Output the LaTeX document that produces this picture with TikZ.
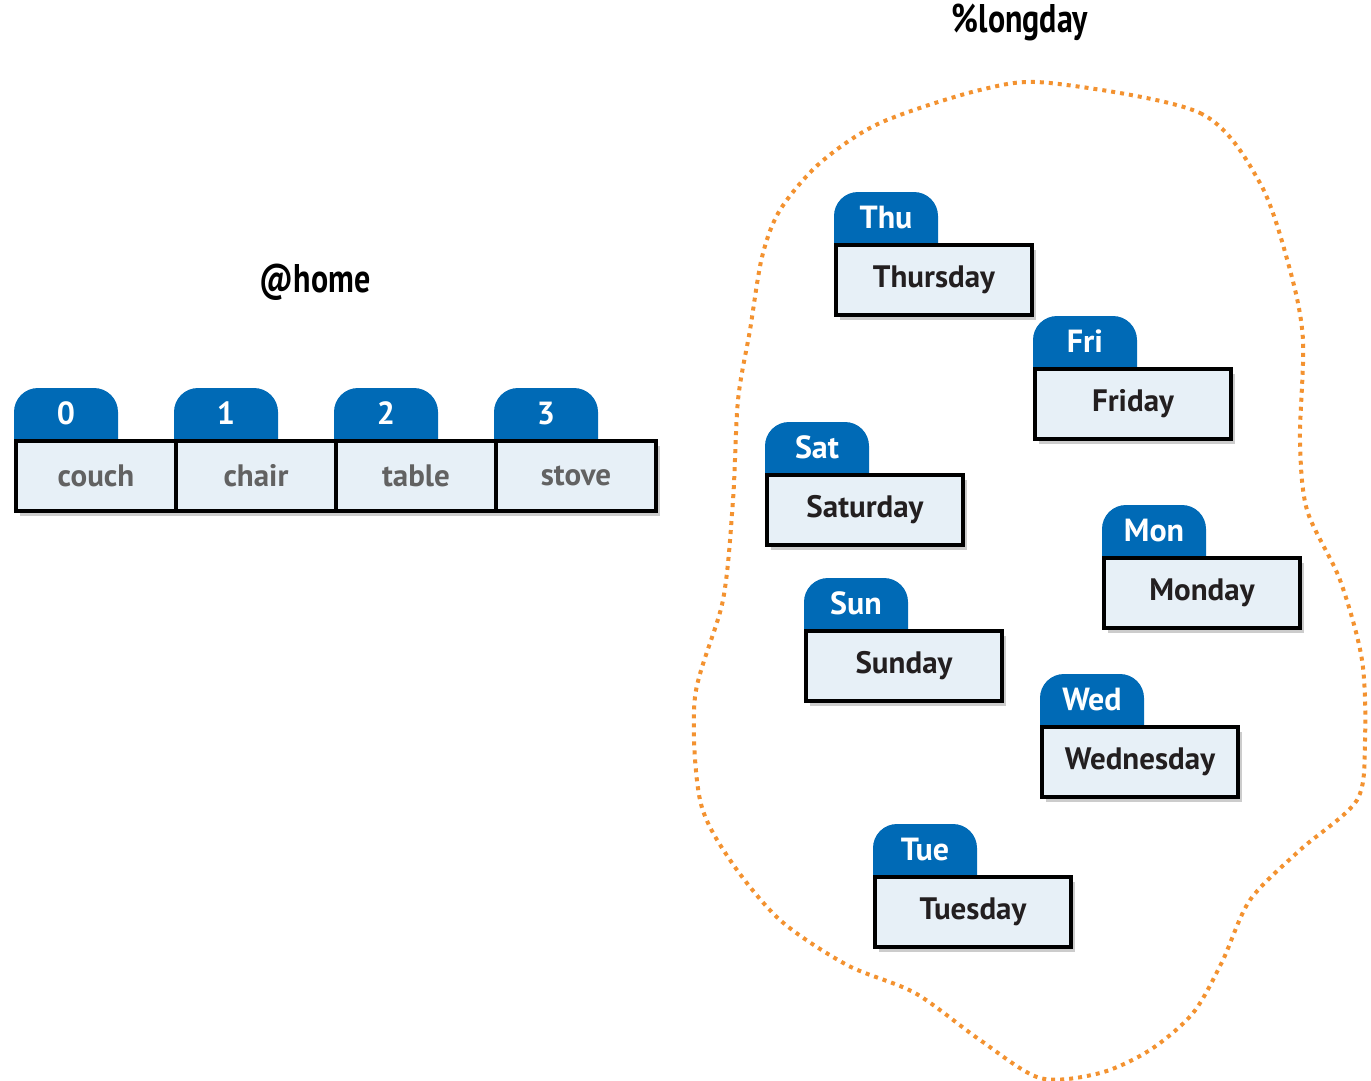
\documentclass[tikz,border=0pt]{standalone}
\usepackage{fontspec}
\setmainfont{PT Sans}
\newfontfamily\titlefont[FakeStretch=0.8]{PT Sans}
\usepackage{xcolor}
\usetikzlibrary{positioning,shadows}

\definecolor{tabblue}{RGB}{0,106,182}
\definecolor{cellfill}{RGB}{231,240,247}
\definecolor{keygray}{RGB}{98,98,98}
\definecolor{valdark}{RGB}{35,31,32}
\definecolor{blobline}{RGB}{243,146,48}

\begin{document}
\begin{tikzpicture}[x=0.5pt, y=-0.5pt]
  % Styles
  \tikzstyle{tab} = [fill=tabblue, rounded corners=12pt, minimum width=52pt, inner sep=0pt, outer sep=0pt, text height=18.3pt, text depth=21.7pt, text=white, font=\bfseries\fontsize{16}{16}\selectfont]
  \tikzstyle{cell} = [draw, line width=2pt, fill=cellfill, text=valdark, minimum width=98pt, minimum height=35pt, inner sep=0pt, font=\bfseries\fontsize{15.5}{15.5}\selectfont, drop shadow={shadow xshift=2pt, shadow yshift=-2.5pt, opacity=0.4}]
  \tikzstyle{homecell} = [cell, text=keygray, minimum width=80pt]
  \tikzstyle{title} = [font=\titlefont\bfseries\fontsize{20}{20}\selectfont]
  \tikzstyle{blob} = [blobline, line width=2pt, dash pattern=on 2pt off 2.5pt]

  \useasboundingbox (0,0) rectangle (1371,1081);

  % Titles
  \node [title] (hometitle) at (315,282) {@home};
  \node [title] (daytitle) at (1020,22) {\%longday};

  % @home
  \node [tab, anchor=north west] (tab0) at (14,388) {0};
  \node [homecell, anchor=north west] (couch) at ([yshift=-25.5pt]tab0.north west) {couch};
  \node [tab, right=28pt of tab0] (tab1) {1};
  \node [homecell, anchor=north west] (chair) at ([yshift=-25.5pt]tab1.north west) {chair};
  \node [tab, right=28pt of tab1] (tab2) {2};
  \node [homecell, anchor=north west] (table) at ([yshift=-25.5pt]tab2.north west) {table};
  \node [tab, right=28pt of tab2] (tab3) {3};
  \node [homecell, anchor=north west] (stove) at ([yshift=-25.5pt]tab3.north west) {stove};

  % %longday
  \draw [blob] plot [smooth cycle] coordinates {(1050,83) (1200,113) (1260,183) (1290,270) (1303,340) (1300,440) (1307,510) (1340,580) (1362,660) (1365,740) (1357,800) (1300,850) (1250,900) (1222,962) (1193,1013) (1150,1050) (1100,1073) (1040,1078) (980,1040) (915,993) (847,965) (780,920) (730,860) (700,800) (695,697) (723,600) (733,500) (738,400) (750,330) (762,257) (780,210) (820,163) (880,123) (980,90)};

  \node [tab, anchor=north west] (thutab) at (834,192) {Thu};
  \node [cell, anchor=north west] (thu) at ([yshift=-25.5pt]thutab.north west) {Thursday};

  \node [tab, anchor=north west] (fritab) at (1033,316) {Fri};
  \node [cell, anchor=north west] (fri) at ([yshift=-25.5pt]fritab.north west) {Friday};

  \node [tab, anchor=north west] (sattab) at (765,422) {Sat};
  \node [cell, anchor=north west] (sat) at ([yshift=-25.5pt]sattab.north west) {Saturday};

  \node [tab, anchor=north west] (montab) at (1102,505) {Mon};
  \node [cell, anchor=north west] (mon) at ([yshift=-25.5pt]montab.north west) {Monday};

  \node [tab, anchor=north west] (suntab) at (804,578) {Sun};
  \node [cell, anchor=north west] (sun) at ([yshift=-25.5pt]suntab.north west) {Sunday};

  \node [tab, anchor=north west] (wedtab) at (1040,674) {Wed};
  \node [cell, anchor=north west] (wed) at ([yshift=-25.5pt]wedtab.north west) {Wednesday};

  \node [tab, anchor=north west] (tuetab) at (873,824) {Tue};
  \node [cell, anchor=north west] (tue) at ([yshift=-25.5pt]tuetab.north west) {Tuesday};

\end{tikzpicture}
\end{document}
